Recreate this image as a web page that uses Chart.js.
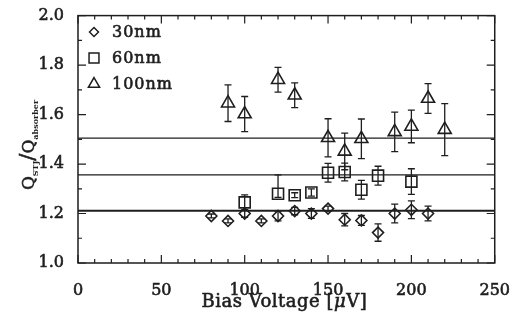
<!DOCTYPE html>
<html>
<head>
<meta charset="utf-8">
<script src="https://cdn.jsdelivr.net/npm/chart.js@4/dist/chart.umd.min.js"></script>
<style>
  html, body { margin: 0; padding: 0; background: #fff; }
  #wrap { width: 520px; height: 326px; }
</style>
</head>
<body>
<div id="wrap"><canvas id="chart" width="520" height="326"></canvas></div>
<script>
// Q ratio vs bias voltage, three film thicknesses

const xTicks = [0, 50, 100, 150, 200, 250];
const yTicks = [1.0, 1.2, 1.4, 1.6, 1.8, 2.0];

const x30 = [80, 90, 100, 110, 120, 130, 140, 150, 160, 170, 180, 190, 200, 210];
const y30 = [1.19, 1.17, 1.20, 1.17, 1.19, 1.21, 1.20, 1.22, 1.175, 1.172, 1.123, 1.20, 1.215, 1.20];
const err30 = [0.008, 0.008, 0.015, 0.008, 0.02, 0.015, 0.02, 0.01, 0.025, 0.02, 0.035, 0.038, 0.036, 0.03];

const x60 = [100, 120, 130, 140, 150, 160, 170, 180, 200];
const y60 = [1.245, 1.28, 1.274, 1.285, 1.365, 1.368, 1.296, 1.353, 1.329];
const err60Lo = [0.03, 0.015, 0.01, 0.015, 0.038, 0.036, 0.038, 0.038, 0.052];
const err60Hi = [0.03, 0.076, 0.01, 0.015, 0.038, 0.036, 0.038, 0.038, 0.052];

const x100 = [90, 100, 120, 130, 150, 160, 170, 190, 200, 210, 220];
const y100 = [1.646, 1.602, 1.741, 1.678, 1.506, 1.451, 1.502, 1.530, 1.552, 1.665, 1.539];
const err100 = [0.074, 0.071, 0.05, 0.05, 0.077, 0.074, 0.08, 0.08, 0.066, 0.06, 0.105];

const refLines = [1.505, 1.356, 1.211];
const seriesNames = ['30nm', '60nm', '100nm'];

const INK = '#1e1e1e';
const FONT = '"DejaVu Serif", serif';
const TEXT_STROKE = 0.6;

function points(xs, ys) {
    return xs.map((x, i) => ({ x: x, y: ys[i] }));
}

// fill + thin stroke, to get the semi-bold look of the original lettering
function heavyText(ctx, text, x, y) {
    ctx.fillText(text, x, y);
    ctx.strokeText(text, x, y);
}

// error bars for each marker series
const errorSets = [
    { xs: x30, ys: y30, lo: err30, hi: err30 },
    { xs: x60, ys: y60, lo: err60Lo, hi: err60Hi },
    { xs: x100, ys: y100, lo: err100, hi: err100 }
];

const markerStyles = [
    { pointStyle: 'rectRot', radius: 5.5, legendRadius: 4.5 },
    { pointStyle: 'rect', radius: 7.8, legendRadius: 7 },
    { pointStyle: 'triangle', radius: 7.5, legendRadius: 6.5 }
];

const errorBarPlugin = {
    id: 'errorBars',
    afterDatasetsDraw(chart) {
        const ctx = chart.ctx;
        const xs = chart.scales.x, ys = chart.scales.y;
        ctx.save();
        ctx.strokeStyle = INK;
        ctx.lineWidth = 1.3;
        errorSets.forEach(set => {
            set.xs.forEach((xv, i) => {
                const px = xs.getPixelForValue(xv);
                const top = ys.getPixelForValue(set.ys[i] + set.hi[i]);
                const bot = ys.getPixelForValue(set.ys[i] - set.lo[i]);
                ctx.beginPath();
                ctx.moveTo(px, top); ctx.lineTo(px, bot);
                ctx.moveTo(px - 3.5, top); ctx.lineTo(px + 3.5, top);
                ctx.moveTo(px - 3.5, bot); ctx.lineTo(px + 3.5, bot);
                ctx.stroke();
            });
        });
        ctx.restore();
    }
};

// frame with inward major/minor ticks, axis titles and legend
const framePlugin = {
    id: 'frame',
    afterDraw(chart) {
        const ctx = chart.ctx;
        const a = chart.chartArea;
        const xs = chart.scales.x, ys = chart.scales.y;
        ctx.save();
        ctx.strokeStyle = INK;
        ctx.lineWidth = 1.5;
        ctx.strokeRect(a.left, a.top, a.right - a.left, a.bottom - a.top);

        ctx.lineWidth = 1.2;
        ctx.beginPath();
        for (let v = 0; v <= 250; v += 10) {
            const px = xs.getPixelForValue(v);
            const len = v % 50 === 0 ? 8 : 4;
            ctx.moveTo(px, a.bottom); ctx.lineTo(px, a.bottom - len);
            ctx.moveTo(px, a.top); ctx.lineTo(px, a.top + len);
        }
        for (let k = 0; k <= 10; k++) {
            const v = 1 + k * 0.1;
            const py = ys.getPixelForValue(v);
            const len = k % 2 === 0 ? 8 : 4;
            ctx.moveTo(a.left, py); ctx.lineTo(a.left + len, py);
            ctx.moveTo(a.right, py); ctx.lineTo(a.right - len, py);
        }
        ctx.stroke();

        // x axis title
        ctx.fillStyle = INK;
        ctx.lineWidth = TEXT_STROKE;
        ctx.textBaseline = 'alphabetic';
        const cx = (a.left + a.right) / 2 - 2;
        const partA = 'Bias Voltage [';
        const partMu = 'μ';
        const partB = 'V]';
        ctx.letterSpacing = '0.5px';
        ctx.font = '18px ' + FONT;
        const wA = ctx.measureText(partA).width;
        const wB = ctx.measureText(partB).width;
        ctx.font = 'italic 18px ' + FONT;
        const wMu = ctx.measureText(partMu).width;
        let tx = cx - (wA + wMu + wB) / 2;
        const ty = 307;
        ctx.font = '18px ' + FONT;
        heavyText(ctx, partA, tx, ty); tx += wA;
        ctx.font = 'italic 18px ' + FONT;
        heavyText(ctx, partMu, tx, ty); tx += wMu;
        ctx.font = '18px ' + FONT;
        heavyText(ctx, partB, tx, ty);
        ctx.letterSpacing = '0px';

        // y axis title: Q_STJ / Q_absorber
        const parts = [
            { t: 'Q', f: '17px ' + FONT, dy: 0 },
            { t: 'STJ', f: 'bold 8px ' + FONT, dy: 4 },
            { t: '/', f: '21px ' + FONT, dy: 0 },
            { t: 'Q', f: '17px ' + FONT, dy: 0 },
            { t: 'absorber', f: 'bold 8px ' + FONT, dy: 4 }
        ];
        let total = 0;
        parts.forEach(p => { ctx.font = p.f; p.w = ctx.measureText(p.t).width; total += p.w; });
        ctx.translate(34, 145);
        ctx.rotate(-Math.PI / 2);
        let lx = -total / 2;
        parts.forEach(p => {
            ctx.font = p.f;
            if (p.dy === 0) heavyText(ctx, p.t, lx, p.dy);
            else ctx.fillText(p.t, lx, p.dy);
            lx += p.w;
        });
        ctx.setTransform(1, 0, 0, 1, 0, 0);

        // legend
        ctx.letterSpacing = '1px';
        ctx.font = '16px ' + FONT;
        ctx.textBaseline = 'middle';
        seriesNames.forEach((name, i) => {
            const my = 32 + i * 26;
            const m = markerStyles[i];
            ctx.lineWidth = 1.5;
            ctx.fillStyle = 'rgba(0,0,0,0)';
            Chart.helpers.drawPoint(ctx, { pointStyle: m.pointStyle, radius: m.legendRadius, borderWidth: 1.5 }, 94, my);
            ctx.fillStyle = INK;
            ctx.lineWidth = TEXT_STROKE;
            heavyText(ctx, name, 112, my + 1);
        });
        ctx.restore();
    }
};

const datasets = [];
refLines.forEach((v, i) => {
    datasets.push({
        type: 'line',
        data: [{ x: 0, y: v }, { x: 250, y: v }],
        borderColor: INK,
        borderWidth: i === 2 ? 2 : 1.3,
        pointRadius: 0,
        fill: false
    });
});
[[x30, y30], [x60, y60], [x100, y100]].forEach((s, i) => {
    datasets.push({
        type: 'scatter',
        label: seriesNames[i],
        data: points(s[0], s[1]),
        pointStyle: markerStyles[i].pointStyle,
        pointRadius: markerStyles[i].radius,
        pointBorderWidth: 1.6,
        pointBorderColor: INK,
        pointBackgroundColor: 'rgba(0,0,0,0)'
    });
});

const tickFont = { family: FONT, size: 16 };

new Chart(document.getElementById('chart'), {
    type: 'scatter',
    data: { datasets: datasets },
    options: {
        responsive: false,
        animation: false,
        events: [],
        layout: { padding: { top: 9, right: 17, left: 0, bottom: 0 } },
        plugins: {
            legend: { display: false },
            tooltip: { enabled: false }
        },
        scales: {
            x: {
                type: 'linear',
                min: 0,
                max: 250,
                afterBuildTicks: scale => { scale.ticks = xTicks.map(v => ({ value: v })); },
                ticks: {
                    color: INK, font: tickFont, padding: 10, maxRotation: 0,
                    textStrokeColor: INK, textStrokeWidth: TEXT_STROKE
                },
                grid: { display: false },
                border: { display: false },
                afterFit: scale => { scale.height = 63; }
            },
            y: {
                type: 'linear',
                min: 1,
                max: 2,
                afterBuildTicks: scale => { scale.ticks = yTicks.map(v => ({ value: v })); },
                ticks: {
                    color: INK,
                    font: tickFont,
                    padding: 6,
                    textStrokeColor: INK, textStrokeWidth: TEXT_STROKE,
                    callback: v => v.toFixed(1)
                },
                grid: { display: false },
                border: { display: false },
                afterFit: scale => { scale.width = 78; }
            }
        }
    },
    plugins: [errorBarPlugin, framePlugin]
});
</script>
</body>
</html>
